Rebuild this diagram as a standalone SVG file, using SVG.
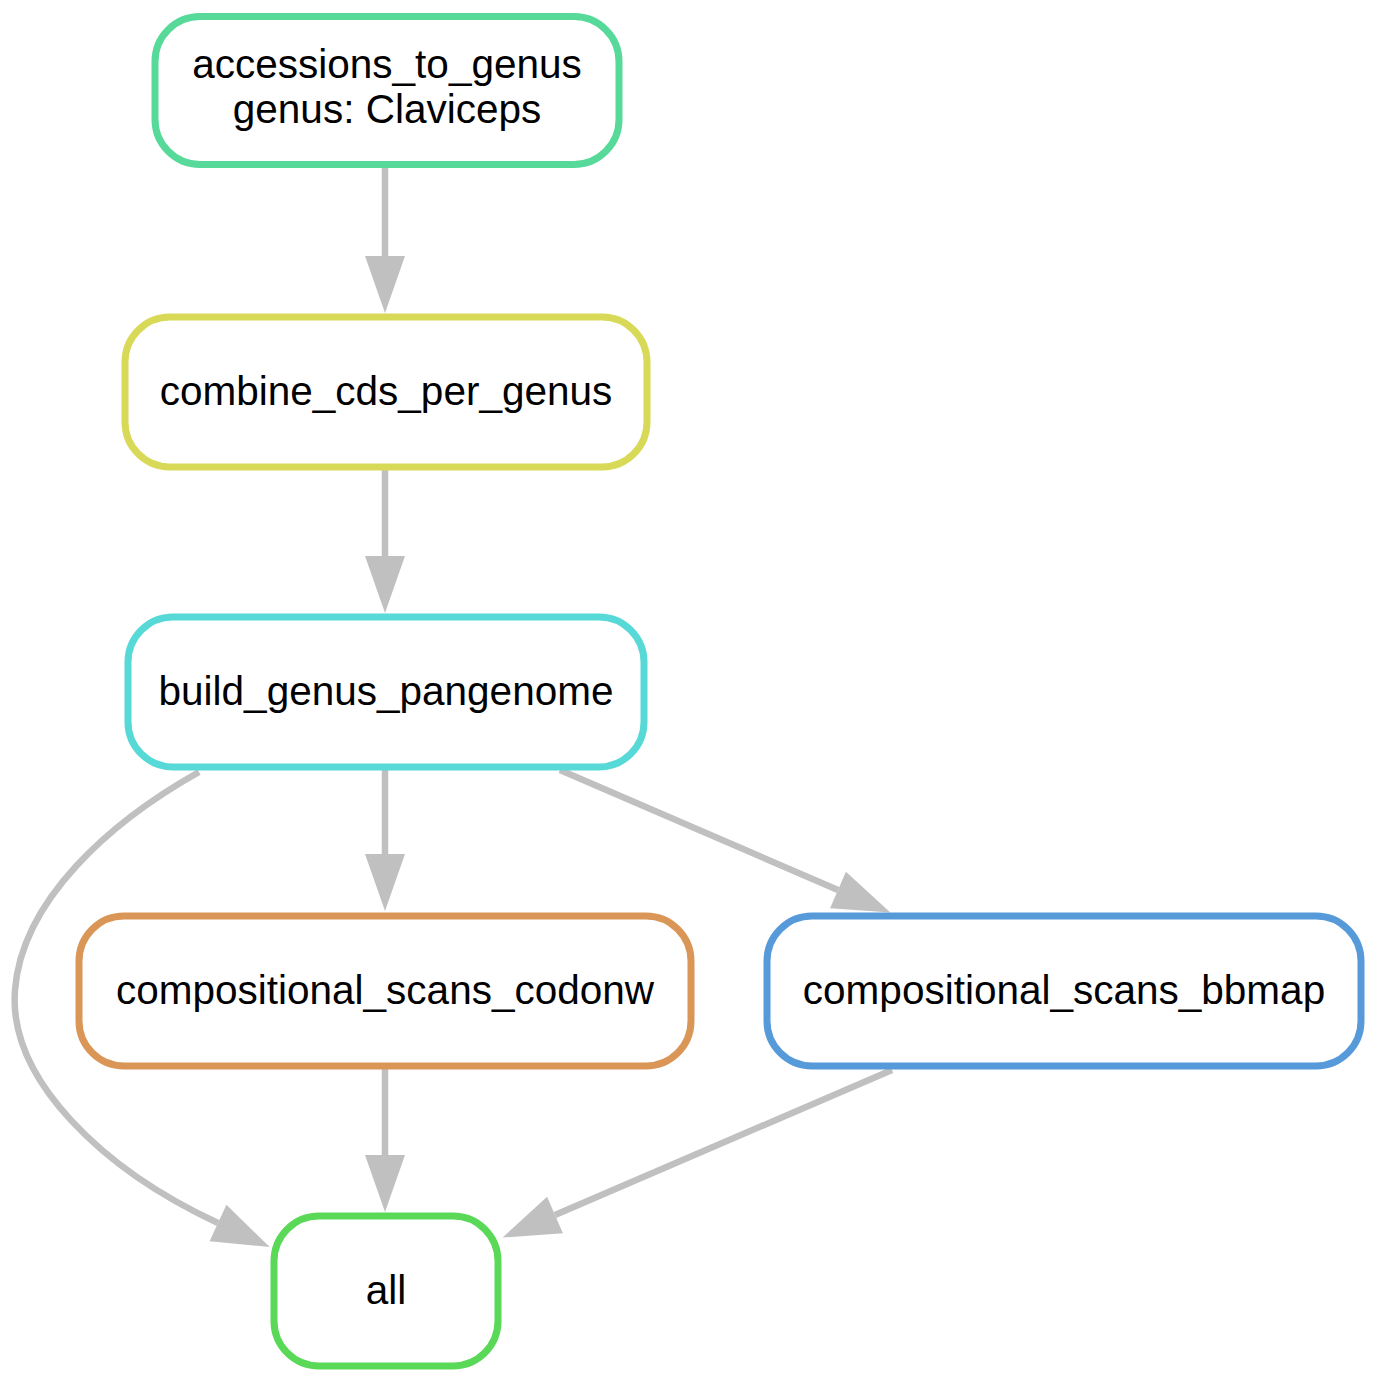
<svg xmlns="http://www.w3.org/2000/svg" width="1380" height="1383" viewBox="0 0 1380 1383">
<style>
.node rect{fill:#ffffff;stroke-width:7}
.node text{font-family:"Liberation Sans",Arial,sans-serif;font-size:40.5px;fill:#000000;text-anchor:middle}
.edge{fill:none;stroke:#c0c0c0;stroke-width:6.5;marker-end:url(#arr)}
</style>
<defs>
<marker id="arr" markerUnits="userSpaceOnUse" markerWidth="60" markerHeight="44" refX="0" refY="20" orient="auto" overflow="visible">
<path d="M0,0 L57,20 L0,40 Z" fill="#c0c0c0"/>
</marker>
</defs>
<rect width="1380" height="1383" fill="#ffffff"/>
<g id="connectors">
<path class="edge" d="M385,167 L385,256"/>
<path class="edge" d="M385,467 L385,556"/>
<path class="edge" d="M385,767 L385,854"/>
<path class="edge" d="M385,1067 L385,1155"/>
<path class="edge" d="M560,770 L838,890"/>
<path class="edge" d="M892,1070 L555,1215"/>
<path class="edge" d="M199,772 C110,822 22,900 15,990 C8,1080 104,1170 218,1223"/>
</g>
<g id="accessions_to_genus" class="node">
<rect x="155" y="16.5" width="464" height="148" rx="45" ry="45" stroke="#57d99a"/>
<text x="387" y="78">accessions_to_genus</text>
<text x="387" y="123">genus: Claviceps</text>
</g>
<g id="combine_cds_per_genus" class="node">
<rect x="125" y="317" width="522" height="150" rx="45" ry="45" stroke="#d7d957"/>
<text x="386" y="405">combine_cds_per_genus</text>
</g>
<g id="build_genus_pangenome" class="node">
<rect x="128" y="617" width="516" height="150" rx="45" ry="45" stroke="#57d9d7"/>
<text x="386" y="705">build_genus_pangenome</text>
</g>
<g id="compositional_scans_codonw" class="node">
<rect x="79" y="916" width="612" height="150" rx="45" ry="45" stroke="#d99657"/>
<text x="385" y="1004">compositional_scans_codonw</text>
</g>
<g id="compositional_scans_bbmap" class="node">
<rect x="767" y="916" width="594" height="150" rx="45" ry="45" stroke="#579ad9"/>
<text x="1064" y="1004">compositional_scans_bbmap</text>
</g>
<g id="all" class="node">
<rect x="274" y="1216" width="224" height="150" rx="45" ry="45" stroke="#59d957"/>
<text x="386" y="1304">all</text>
</g>
</svg>
